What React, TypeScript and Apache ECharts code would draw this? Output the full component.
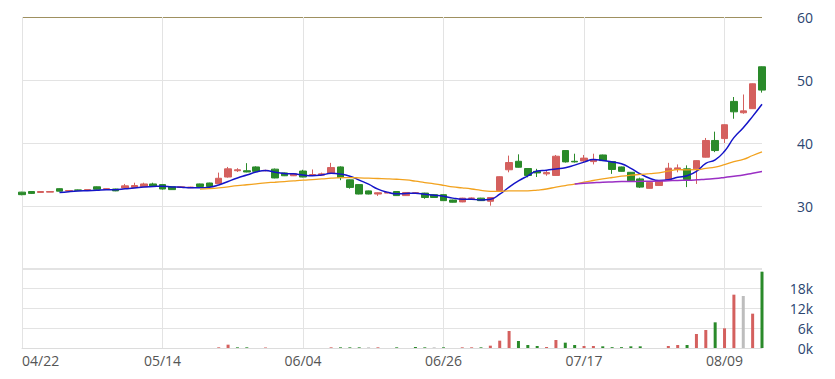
import React, { useEffect, useRef } from 'react';
import * as echarts from 'echarts';

const dates = [
  '04/22', '04/23', '04/24', '04/25', '04/26', '04/29', '04/30', '05/02', '05/03', '05/06',
  '05/07', '05/08', '05/09', '05/10', '05/13', '05/14', '05/15', '05/16', '05/17', '05/20',
  '05/21', '05/22', '05/23', '05/24', '05/27', '05/28', '05/29', '05/30', '05/31', '06/03',
  '06/04', '06/05', '06/06', '06/10', '06/11', '06/12', '06/13', '06/14', '06/17', '06/18',
  '06/19', '06/20', '06/21', '06/24', '06/25', '06/26', '06/27', '06/28', '07/01', '07/02',
  '07/03', '07/04', '07/05', '07/08', '07/09', '07/10', '07/11', '07/12', '07/15', '07/16',
  '07/17', '07/18', '07/19', '07/22', '07/23', '07/25', '07/26', '07/29', '07/30', '07/31',
  '08/01', '08/02', '08/05', '08/07', '08/08', '08/09', '08/12', '08/13', '08/14', '08/15',
];

const opens = [
  32.2, 32.3, 32.15, 32.2, 32.75, 32.38, 32.55, 32.5, 33.05, 32.65,
  32.7, 32.85, 32.95, 33.05, 33.5, 33.4, 33.05, 32.95, 32.9, 33.5,
  33.65, 33.55, 34.6, 35.6, 35.6, 36.2, 35.6, 35.85, 35.25, 34.8,
  35.55, 34.95, 34.9, 35.25, 36.2, 34.15, 33.4, 32.4, 31.9, 32.05,
  32.3, 31.65, 32.05, 32.05, 31.8, 31.8, 30.95, 30.65, 31.2, 31.25,
  30.75, 32.45, 35.75, 37.1, 35.95, 35.5, 35.1, 34.85, 38.8, 37.1,
  37.15, 37.05, 38.1, 37.05, 36.2, 35.35, 34.3, 32.8, 33.25, 34.2,
  35.8, 35.9, 35.9, 37.75, 40.4, 40.7, 46.6, 44.8, 45.45, 52.1,
];

const closes = [
  31.8, 32.0, 32.3, 32.3, 32.35, 32.45, 32.5, 32.6, 32.65, 32.75,
  32.4, 33.2, 33.25, 33.5, 33.1, 32.7, 32.6, 33.05, 33.0, 33.1,
  33.1, 34.4, 35.9, 35.75, 35.4, 35.5, 35.65, 34.45, 34.8, 35.1,
  34.6, 35.0, 35.1, 36.1, 34.5, 32.95, 31.9, 31.9, 32.1, 32.15,
  31.65, 32.15, 32.1, 31.35, 31.35, 30.85, 30.6, 31.25, 31.27, 30.85,
  31.35, 34.65, 36.9, 36.15, 34.85, 35.25, 35.3, 37.9, 37.0, 37.0,
  37.6, 37.4, 37.2, 35.8, 35.5, 34.0, 33.0, 33.75, 34.0, 36.0,
  36.05, 34.2, 37.2, 40.4, 38.8, 42.9, 44.95, 45.1, 49.4, 48.4,
];

const lows = [
  31.7, 31.9, 32.1, 32.2, 32.3, 32.35, 32.45, 32.5, 32.6, 32.6,
  32.35, 32.8, 32.9, 33.0, 33.05, 32.6, 32.55, 32.9, 32.85, 33.05,
  33.05, 33.5, 34.5, 35.4, 35.35, 35.45, 35.5, 34.4, 34.75, 34.75,
  34.55, 34.9, 34.85, 35.2, 34.1, 32.75, 31.85, 31.85, 31.6, 32.0,
  31.6, 31.6, 32.0, 31.15, 31.3, 30.8, 30.55, 30.6, 31.15, 30.8,
  30.05, 32.4, 35.35, 36.1, 34.55, 34.6, 34.8, 34.8, 36.9, 36.9,
  36.9, 36.6, 37.15, 35.1, 35.45, 33.95, 32.85, 32.75, 33.2, 34.15,
  35.35, 33.0, 33.5, 37.7, 38.55, 40.0, 43.85, 44.65, 45.4, 48.0,
];

const highs = [
  32.25, 32.35, 32.35, 32.35, 32.8, 32.5, 32.6, 32.65, 33.1, 32.8,
  32.75, 33.5, 33.7, 33.7, 33.7, 33.45, 33.1, 33.1, 33.05, 33.55,
  33.7, 35.3, 36.2, 36.0, 36.8, 36.3, 35.75, 35.95, 35.3, 35.15,
  35.75, 35.8, 35.3, 36.85, 36.3, 34.2, 33.45, 32.45, 32.15, 32.2,
  32.35, 32.2, 32.15, 32.1, 31.85, 31.85, 31.0, 31.3, 31.35, 31.3,
  31.4, 34.7, 38.0, 38.2, 36.0, 35.9, 35.7, 38.1, 38.85, 38.3,
  38.1, 38.3, 38.15, 37.1, 36.25, 35.4, 34.5, 33.8, 34.05, 36.85,
  36.6, 36.45, 37.25, 40.8, 41.8, 42.95, 47.3, 47.7, 49.45, 52.15,
];

const volumes = [
  0, 0, 0, 0, 0, 0, 0, 0, 0, 0,
  0, 0, 0, 0, 0, 0, 0, 0, 0, 0,
  0, 200, 1000, 200, 200, 0, 150, 0, 0, 0,
  0, 0, 0, 200, 200, 200, 200, 200, 200, 0,
  200, 0, 300, 200, 200, 200, 0, 200, 200, 200,
  700, 2200, 5100, 2100, 900, 600, 300, 2400, 1600, 900,
  600, 600, 500, 250, 250, 500, 500, 0, 0, 600,
  900, 900, 4200, 5400, 7700, 5900, 16000, 15600, 10300, 22900,
];

// 1 = up vs previous close, -1 = down, 0 = unchanged
const volumeDirs = [
  -1, 1, 1, 0, 1, 1, 1, 1, 1, 1,
  -1, 1, 1, 1, -1, -1, -1, 1, -1, 1,
  0, 1, 1, -1, -1, 1, 1, -1, 1, 1,
  -1, 1, 1, 1, -1, -1, -1, 0, 1, 1,
  -1, 1, -1, -1, 0, -1, -1, 1, 1, -1,
  1, 1, 1, -1, -1, -1, 1, 1, -1, -1,
  1, 1, -1, -1, -1, -1, -1, 1, 1, 1,
  1, -1, 1, 1, -1, 1, 1, 0, 1, -1,
];

const maPeriods = [5, 20, 60];
const maColors = ['#1414c8', '#f2a21e', '#9a2fc4'];
const maWidths = [1.5, 1.3, 1.5];

const UP = '#d4605e';
const DOWN = '#2a8a2a';
const FLAT = '#bdbdbd';
const FONT = '"Open Sans", sans-serif';

function movingAverage(values: number[], n: number) {
  return values.map((_, i) => {
    if (i < n - 1) return '-';
    let s = 0;
    for (let j = i - n + 1; j <= i; j++) s += values[j];
    return +(s / n).toFixed(3);
  });
}

export default function App() {
  const ref = useRef<HTMLDivElement>(null);
  useEffect(() => {
    const chart = echarts.init(ref.current!, null, { renderer: 'svg' });
    const candleData = dates.map((_, i) => [opens[i], closes[i], lows[i], highs[i]]);
    const volData = volumes.map((v, i) => ({
      value: v,
      itemStyle: { color: volumeDirs[i] > 0 ? UP : volumeDirs[i] < 0 ? DOWN : FLAT },
    }));
    const baseX = {
      type: 'category',
      data: dates,
      boundaryGap: false,
      axisTick: { show: false },
    };
    const option: any = {
      animation: false,
      grid: [
        { left: 22, right: 73, top: 17, height: 252 },
        { left: 22, right: 73, top: 268, height: 80 },
      ],
      xAxis: [
        {
          ...baseX,
          gridIndex: 0,
          axisLine: { show: false },
          axisLabel: { show: false, interval: 14 },
          splitLine: { show: true, interval: 14, lineStyle: { color: '#e3e3e3' } },
        },
        {
          ...baseX,
          gridIndex: 1,
          axisLine: { show: true, lineStyle: { color: '#dcdcdc' } },
          axisLabel: {
            show: true,
            interval: 14,
            color: '#555',
            fontSize: 14,
            fontFamily: FONT,
            margin: 5,
            alignMinLabel: 'left',
          },
          splitLine: { show: true, interval: 14, lineStyle: { color: '#e3e3e3' } },
        },
      ],
      yAxis: [
        {
          type: 'value',
          gridIndex: 0,
          position: 'right',
          min: 20,
          max: 60,
          interval: 10,
          axisLine: { show: false },
          axisTick: { show: false },
          axisLabel: {
            formatter: (v: number) => (v === 20 ? '' : String(v)),
            align: 'right',
            margin: 51,
            color: '#2b4570',
            fontSize: 14,
            fontFamily: FONT,
          },
          splitLine: {
            lineStyle: { color: ['#e3e3e3', '#e3e3e3', '#e3e3e3', '#e3e3e3', '#9e9060'] },
          },
        },
        {
          type: 'value',
          gridIndex: 1,
          position: 'right',
          min: 0,
          max: 24000,
          interval: 6000,
          axisLine: { show: false },
          axisTick: { show: false },
          axisLabel: {
            formatter: (v: number) => (v >= 24000 ? '' : v / 1000 + 'k'),
            align: 'right',
            margin: 51,
            color: '#2b4570',
            fontSize: 14,
            fontFamily: FONT,
          },
          splitLine: { lineStyle: { color: '#e3e3e3' } },
        },
      ],
      series: [
        {
          type: 'candlestick',
          xAxisIndex: 0,
          yAxisIndex: 0,
          data: candleData,
          barWidth: 7,
          clip: false,
          itemStyle: {
            color: UP,
            color0: DOWN,
            borderColor: UP,
            borderColor0: DOWN,
            borderWidth: 1,
          },
        },
        ...maPeriods.map((p, k) => ({
          type: 'line',
          name: 'MA' + p,
          xAxisIndex: 0,
          yAxisIndex: 0,
          data: movingAverage(closes, p),
          smooth: true,
          showSymbol: false,
          symbol: 'none',
          lineStyle: { color: maColors[k], width: maWidths[k] },
        })),
        {
          type: 'bar',
          xAxisIndex: 1,
          yAxisIndex: 1,
          data: volData,
          barWidth: 3,
        },
      ],
    };
    chart.setOption(option);
    return () => chart.dispose();
  }, []);
  return (
    <div
      ref={ref}
      style={{ position: 'absolute', left: 0, top: 0, width: 835, height: 379 }}
    />
  );
}
